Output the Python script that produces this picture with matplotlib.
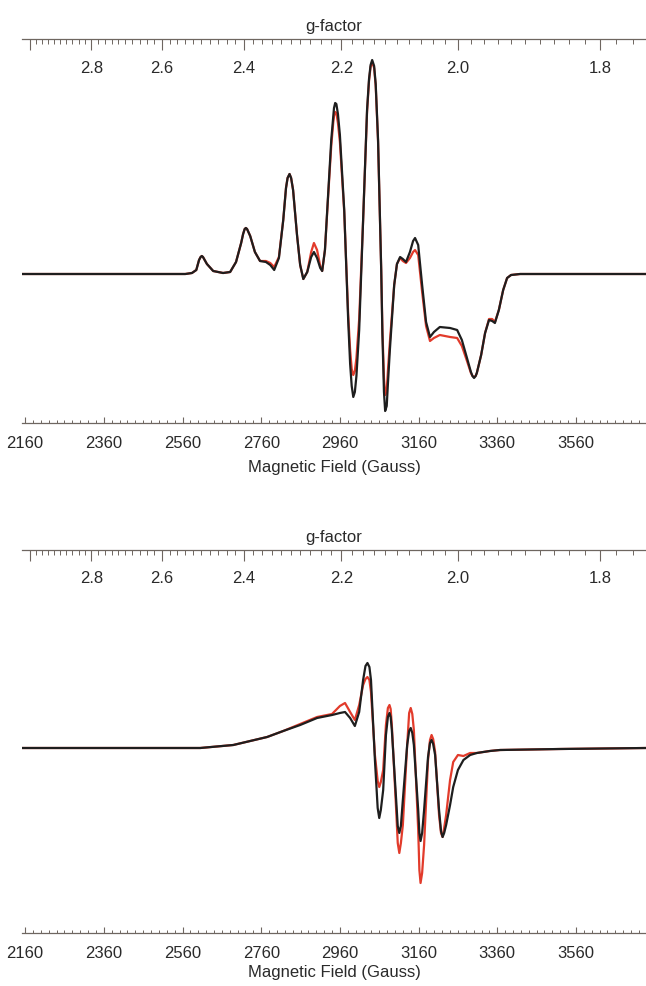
import numpy as np
import matplotlib.pyplot as plt
from matplotlib.ticker import FixedLocator, MultipleLocator

plt.rcParams['font.family'] = ['Liberation Sans', 'DejaVu Sans']

# g * B (Gauss) for the spectrometer frequency
G_CONST = 6520.0

# ---- top spectrum (field in Gauss, intensity arb. units) ----
field1 = [2152, 2567, 2584, 2595, 2602, 2606, 2609, 2612, 2622, 2638,
          2663, 2681, 2696, 2709, 2714, 2718, 2721, 2724, 2732, 2744,
          2757, 2772, 2783, 2793, 2805, 2816, 2823, 2827, 2832, 2836,
          2841, 2851, 2859, 2867, 2877, 2887, 2894, 2902, 2910, 2915,
          2922, 2930, 2938, 2943, 2945, 2948, 2951, 2955, 2960, 2971,
          2981, 2986, 2990, 2994, 2998, 3002, 3009, 3019, 3029, 3034,
          3038, 3042, 3047, 3051, 3057, 3065, 3068, 3072, 3075, 3079,
          3082, 3087, 3098, 3105, 3113, 3120, 3128, 3138, 3146, 3151,
          3159, 3169, 3179, 3189, 3199, 3214, 3240, 3258, 3270, 3283,
          3293, 3297, 3301, 3305, 3308, 3319, 3329, 3339, 3347, 3354,
          3364, 3375, 3385, 3395, 3418, 3738]
black1 = [0, 0, 1, 4, 14, 17, 18, 17, 10, 3,
          1, 2, 12, 31, 40, 45, 46, 45, 38, 22,
          13, 12, 9, 4, 16, 54, 86, 96, 100, 96,
          84, 39, 9, -5, 2, 17, 22, 16, 6, 3,
          24, 79, 134, 157, 166, 171, 170, 160, 139, 64,
          -46, -90, -112, -123, -118, -102, -56, 54, 164, 195,
          209, 214, 208, 190, 134, 4, -60, -118, -137, -132,
          -110, -76, -11, 10, 17, 15, 12, 22, 33, 36,
          29, -11, -48, -63, -58, -53, -54, -56, -66, -84,
          -98, -102, -104, -102, -99, -81, -59, -46, -47, -49,
          -36, -16, -4, -1, 0, 0]
red1 = [0, 0, 1, 4, 14, 17, 18, 17, 10, 3,
        1, 2, 12, 31, 40, 45, 46, 45, 38, 22,
        13, 13, 11, 7, 17, 54, 86, 96, 100, 96,
        84, 39, 9, -5, 2, 22, 31, 24, 8, 3,
        24, 77, 128, 151, 158, 162, 161, 151, 132, 62,
        -40, -76, -95, -101, -97, -84, -45, 54, 162, 193,
        207, 212, 206, 188, 132, 4, -55, -104, -121, -116,
        -97, -68, -11, 10, 16, 13, 11, 16, 22, 24,
        19, -18, -52, -67, -64, -61, -63, -64, -72, -87,
        -99, -102, -103, -102, -99, -81, -59, -45, -45, -48,
        -36, -16, -4, -1, 0, 0]

# ---- bottom spectrum ----
field2 = [2152, 2351, 2605, 2689, 2775, 2816, 2859, 2902, 2940, 2960,
          2973, 2986, 2998, 3009, 3019, 3025, 3030, 3035, 3039, 3049,
          3056, 3060, 3064, 3070, 3077, 3082, 3086, 3089, 3092, 3103,
          3107, 3111, 3115, 3120, 3131, 3136, 3140, 3144, 3148, 3159,
          3162, 3165, 3169, 3174, 3184, 3189, 3193, 3197, 3202, 3212,
          3217, 3221, 3225, 3230, 3240, 3248, 3260, 3274, 3291, 3308,
          3341, 3367, 3519, 3738]
black2 = [0, 0, 0, 3, 11, 17, 23, 30, 33, 35,
          36, 30, 22, 36, 68, 82, 85, 81, 68, -12,
          -60, -70, -62, -42, 13, 31, 35, 31, 18, -52,
          -78, -85, -78, -52, 3, 17, 20, 15, 3, -62,
          -85, -93, -85, -62, -9, 5, 8, 4, -7, -62,
          -83, -89, -85, -77, -57, -39, -22, -12, -7, -5,
          -3, -2, -1, 0]
red2 = [0, 0, 0, 3, 11, 17, 24, 31, 34, 42,
        45, 36, 28, 43, 63, 69, 71, 68, 56, -7,
        -33, -39, -34, -22, 23, 40, 43, 39, 23, -62,
        -95, -105, -95, -77, 3, 35, 40, 34, 18, -82,
        -122, -135, -125, -97, -12, 8, 13, 9, -4, -67,
        -85, -89, -80, -67, -32, -14, -7, -8, -5, -5,
        -3, -2, -1, 0]

spine_col = '#6e6660'
text_col = '#2a2a2a'


def b_to_g(b):
    b = np.asarray(b, dtype=float)
    with np.errstate(divide='ignore', invalid='ignore'):
        return G_CONST / b


def g_to_b(g):
    g = np.asarray(g, dtype=float)
    with np.errstate(divide='ignore', invalid='ignore'):
        return G_CONST / g


def g_fmt(v, pos):
    if v > 2.9:
        return ''
    return '%.1f' % v


def draw_panel(ax, field, black, red, ylim, xlabelpad):
    ax.plot(field, red, color='#e23b2b', lw=1.6, solid_joinstyle='round')
    ax.plot(field, black, color='#1e1e1e', lw=1.6, solid_joinstyle='round')
    ax.set_xlim(2152, 3738)
    ax.set_ylim(*ylim)
    for s in ['left', 'right', 'top']:
        ax.spines[s].set_visible(False)
    ax.spines['bottom'].set_color(spine_col)
    ax.spines['bottom'].set_linewidth(0.9)
    ax.set_yticks([])
    ax.xaxis.set_major_locator(MultipleLocator(200, offset=160))
    ax.xaxis.set_minor_locator(MultipleLocator(20))
    ax.tick_params(axis='x', which='major', direction='in', length=4, width=0.8,
                   color=spine_col, labelsize=12, labelcolor=text_col, pad=9)
    ax.tick_params(axis='x', which='minor', direction='in', length=2, width=0.7,
                   color=spine_col)
    ax.set_xlabel('Magnetic Field (Gauss)', fontsize=12, color=text_col,
                  labelpad=xlabelpad)

    sec = ax.secondary_xaxis('top', functions=(b_to_g, g_to_b))
    sec.xaxis.set_major_locator(FixedLocator([1.8, 2.0, 2.2, 2.4, 2.6, 2.8, 3.0]))
    sec.xaxis.set_minor_locator(FixedLocator(np.round(np.arange(1.74, 3.02, 0.02), 2)))
    sec.xaxis.set_major_formatter(g_fmt)
    sec.spines['top'].set_color(spine_col)
    sec.spines['top'].set_linewidth(0.9)
    sec.tick_params(axis='x', which='major', direction='in', length=8, width=0.8,
                    color=spine_col, labelsize=12, labelcolor=text_col, pad=-26)
    sec.tick_params(axis='x', which='minor', direction='in', length=3.6, width=0.7,
                    color=spine_col)
    sec.set_xlabel('g-factor', fontsize=12, color=text_col, labelpad=2.5)


fig = plt.figure(figsize=(6.46, 9.86), dpi=100)
ax1 = fig.add_axes([22 / 646, 1 - 423 / 986, 624 / 646, (423 - 39.5) / 986])
ax2 = fig.add_axes([22 / 646, 1 - 933 / 986, 624 / 646, (933 - 550) / 986])

draw_panel(ax1, field1, black1, red1, (-149, 234.5), 6.5)
draw_panel(ax2, field2, black2, red2, (-185, 198), 3)

fig.savefig('out.png', dpi=100)
